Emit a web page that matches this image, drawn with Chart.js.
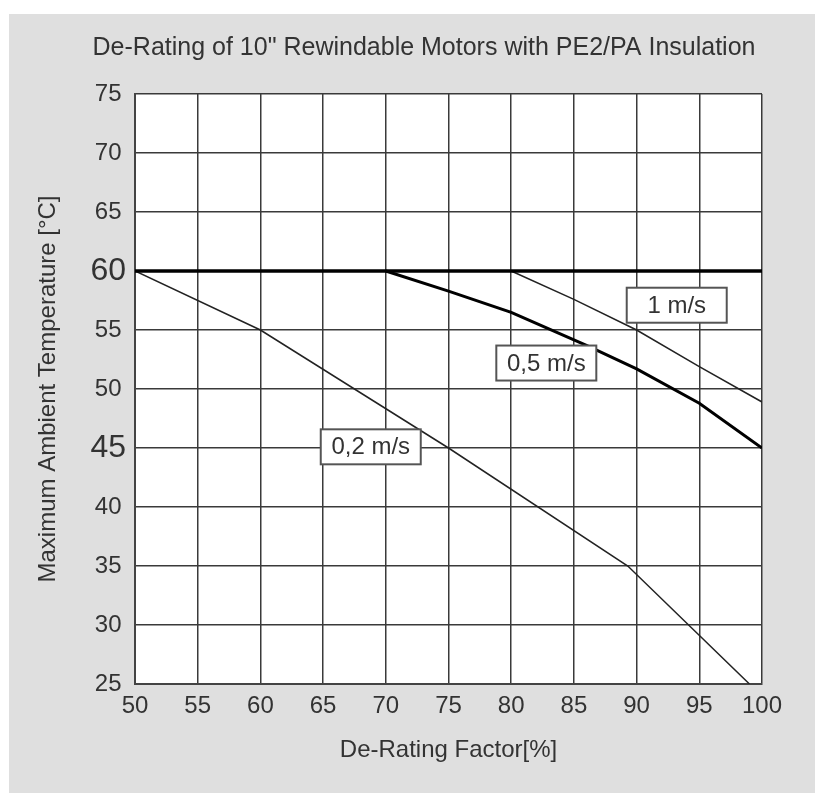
<!DOCTYPE html>
<html>
<head>
<meta charset="utf-8">
<script src="https://cdn.jsdelivr.net/npm/chart.js@4"></script>
<style>
  html, body { margin: 0; padding: 0; background: #ffffff; }
  #wrap { width: 815px; height: 793px; }
</style>
</head>
<body>
<div id="wrap"><canvas id="c" width="815" height="793"></canvas></div>
<script>
// ---------- data ----------
const chartTitle = 'De-Rating of 10" Rewindable Motors with PE2/PA Insulation';
const xAxisTitle = 'De-Rating Factor[%]';
const yAxisTitle = 'Maximum Ambient Temperature [°C]';

const xTicks = [50, 55, 60, 65, 70, 75, 80, 85, 90, 95, 100];
const yTicks = [25, 30, 35, 40, 45, 50, 55, 60, 65, 70, 75];
const emphasizedYTicks = [60, 45];

const limitX = [50, 100];
const limitY = [60, 60];

const s02X = [50, 60, 75, 89.3, 99];
const s02Y = [60, 55, 45, 35, 25];

const s05X = [70, 75, 80, 86, 90, 95, 100];
const s05Y = [60, 58.3, 56.5, 53.7, 51.7, 48.8, 45];

const s1X = [80, 85, 90, 95, 100];
const s1Y = [60, 57.6, 55, 51.9, 48.9];

const seriesLabels = ['0,2 m/s', '0,5 m/s', '1 m/s'];

// ---------- layout (label anchors in data units) ----------
const labelAnchorX = [68.8, 82.8, 93.2];
const labelAnchorY = [45.1, 52.2, 57.1];

const pts = (xs, ys) => xs.map((x, i) => ({ x: x, y: ys[i] }));

Chart.defaults.font.family = "'Liberation Sans', Arial, sans-serif";
Chart.defaults.color = '#333333';

const TEXT = '#333333';
const GRID = '#3a3a3a';

const bgPlugin = {
  id: 'bg',
  beforeDraw(chart) {
    const { ctx, chartArea: a } = chart;
    ctx.save();
    ctx.fillStyle = '#ffffff';
    ctx.fillRect(0, 0, chart.width, chart.height);
    ctx.fillStyle = '#dfdfdf';
    ctx.fillRect(9, 14, chart.width - 9, chart.height - 14);
    ctx.fillStyle = '#ffffff';
    ctx.fillRect(a.left, a.top, a.right - a.left, a.bottom - a.top);
    ctx.restore();
  }
};

const titlePlugin = {
  id: 'ttl',
  afterDraw(chart) {
    const { ctx } = chart;
    ctx.save();
    ctx.font = "25px 'Liberation Sans', Arial, sans-serif";
    ctx.fillStyle = TEXT;
    ctx.textAlign = 'center';
    ctx.textBaseline = 'middle';
    ctx.fillText(chartTitle, 424, 48);
    ctx.restore();
  }
};

const labelPlugin = {
  id: 'lbls',
  afterDatasetsDraw(chart) {
    const { ctx, scales: { x, y } } = chart;
    ctx.save();
    ctx.font = "24px 'Liberation Sans', Arial, sans-serif";
    ctx.textAlign = 'center';
    ctx.textBaseline = 'middle';
    seriesLabels.forEach((t, i) => {
      const cx = x.getPixelForValue(labelAnchorX[i]);
      const cy = y.getPixelForValue(labelAnchorY[i]);
      const w = 100, h = 35;
      ctx.fillStyle = '#ffffff';
      ctx.fillRect(cx - w / 2, cy - h / 2, w, h);
      ctx.strokeStyle = '#555555';
      ctx.lineWidth = 2;
      ctx.strokeRect(cx - w / 2, cy - h / 2, w, h);
      ctx.fillStyle = TEXT;
      ctx.fillText(t, cx, cy + 1);
    });
    ctx.restore();
  }
};

new Chart(document.getElementById('c'), {
  type: 'line',
  data: {
    datasets: [
      { data: pts(limitX, limitY), borderColor: '#000000', borderWidth: 3.5 },
      { data: pts(s02X, s02Y), borderColor: '#222222', borderWidth: 1.5 },
      { data: pts(s05X, s05Y), borderColor: '#000000', borderWidth: 3 },
      { data: pts(s1X, s1Y), borderColor: '#222222', borderWidth: 1.5 }
    ]
  },
  options: {
    responsive: false,
    devicePixelRatio: 1,
    animation: false,
    layout: { padding: { top: 94, right: 53, left: 0, bottom: 0 } },
    elements: { point: { radius: 0 }, line: { tension: 0 } },
    plugins: { legend: { display: false }, tooltip: { enabled: false }, title: { display: false } },
    scales: {
      x: {
        type: 'linear', min: 50, max: 100,
        afterBuildTicks: s => { s.ticks = xTicks.map(v => ({ value: v })); },
        afterFit: s => { s.height = 109; },
        ticks: { font: { size: 24 }, color: TEXT, padding: 8, maxRotation: 0 },
        grid: { color: GRID, lineWidth: 1.5, drawTicks: false },
        border: { color: '#444444', width: 2 },
        title: { display: true, text: xAxisTitle, font: { size: 24 }, color: TEXT, padding: { top: 0, bottom: 28 } }
      },
      y: {
        type: 'linear', min: 25, max: 75,
        afterBuildTicks: s => { s.ticks = yTicks.map(v => ({ value: v })); },
        afterFit: s => { s.width = 135; },
        ticks: {
          font: ctx => ({ size: emphasizedYTicks.includes(ctx.tick && ctx.tick.value) ? 32 : 24 }),
          color: TEXT, padding: 9, crossAlign: 'center'
        },
        grid: { color: GRID, lineWidth: 1.5, drawTicks: false },
        border: { color: '#444444', width: 2 },
        title: { display: true, text: yAxisTitle, font: { size: 24 }, color: TEXT, padding: { top: 34, bottom: 0 } }
      }
    }
  },
  plugins: [bgPlugin, titlePlugin, labelPlugin]
});
</script>
</body>
</html>
